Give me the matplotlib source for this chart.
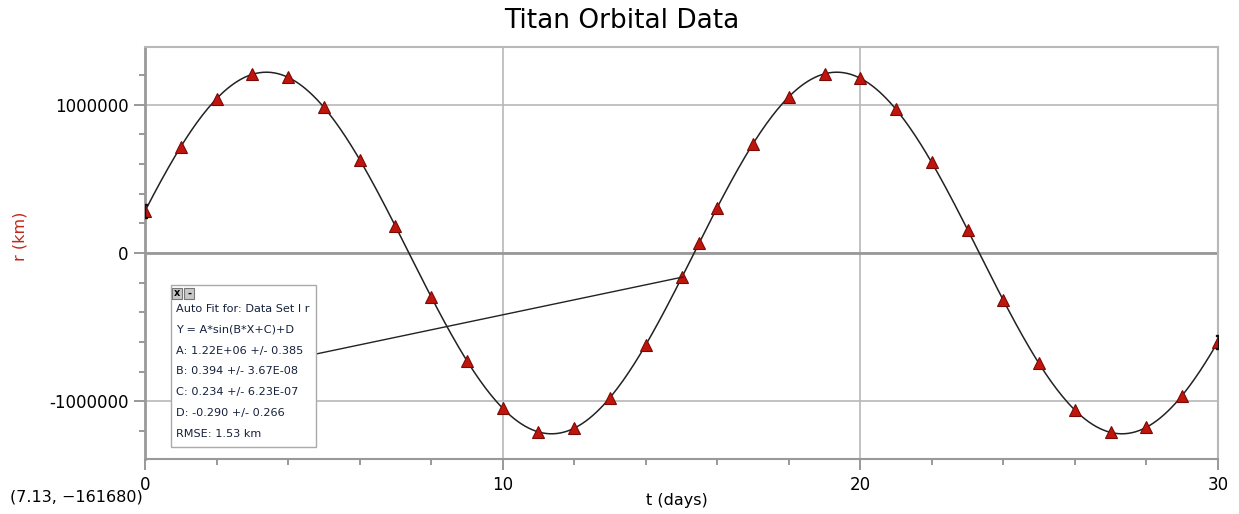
import numpy as np
import matplotlib.pyplot as plt
from matplotlib.ticker import MultipleLocator

# measured orbital radius of Titan (km) vs time (days)
t_days = [0, 1, 2, 3, 4, 5, 6, 7, 8, 9, 10, 11, 12, 13, 14, 15, 15.5, 16,
          17, 18, 19, 20, 21, 22, 23, 24, 25, 26, 27, 28, 29, 30]
r_km = [283000, 717000, 1041000, 1205000, 1185000, 983000, 630000, 182000,
        -295000, -726000, -1048000, -1207000, -1183000, -977000, -622000,
        -165000, 70000, 307000, 736000, 1055000, 1208000, 1179000, 970000,
        612000, 157000, -319000, -745000, -1061000, -1210000, -1176000,
        -962000, -602000]

# auto fit parameters, Y = A*sin(B*X+C)+D
fit_A = 1.22e6
fit_B = 0.394
fit_C = 0.234
fit_D = -0.290

fit_lines = ['Auto Fit for: Data Set I r',
             'Y = A*sin(B*X+C)+D',
             'A: 1.22E+06 +/- 0.385',
             'B: 0.394 +/- 3.67E-08',
             'C: 0.234 +/- 6.23E-07',
             'D: -0.290 +/- 0.266',
             'RMSE: 1.53 km']

plt.rcParams['font.family'] = 'DejaVu Sans'

W, H = 1239, 514
fig = plt.figure(figsize=(W/100, H/100), dpi=100)
ax = fig.add_axes([145/W, 55/H, 1073/W, 412/H])

tt = np.linspace(0, 30, 600)
ax.plot(tt, fit_A*np.sin(fit_B*tt + fit_C) + fit_D, color='#222222', lw=1.1, zorder=3)
ax.plot(t_days, r_km, ls='none', marker='^', ms=8, mfc='#c0150c', mec='#7a0a05',
        mew=0.8, zorder=4)

# selection brackets at the ends
ax.plot([t_days[0]], [r_km[0]], marker='$[$', ms=10, color='#111111', ls='none', zorder=5)
ax.plot([t_days[-1]], [r_km[-1]], marker='$]$', ms=10, color='#111111', ls='none', zorder=5)

ax.set_xlim(0, 30)
ax.set_ylim(-1.39e6, 1.39e6)
ax.xaxis.set_major_locator(MultipleLocator(10))
ax.xaxis.set_minor_locator(MultipleLocator(2))
ax.yaxis.set_major_locator(MultipleLocator(1000000))
ax.yaxis.set_minor_locator(MultipleLocator(200000))
ax.yaxis.set_major_formatter(plt.FuncFormatter(lambda v, p: '%d' % v))

ax.grid(True, which='major', color='#b8b8b8', lw=1.2, zorder=1)
ax.axhline(0, color='#999999', lw=2, zorder=2)
for s in ax.spines.values():
    s.set_color('#b8b8b8')
    s.set_linewidth(1.5)
ax.spines['left'].set_color('#999999')
ax.spines['left'].set_linewidth(2)
ax.spines['bottom'].set_color('#999999')

ax.tick_params(which='major', direction='out', length=8, width=1.2, color='#888888',
               labelsize=12, pad=4)
ax.tick_params(which='minor', direction='out', length=4, width=1.2, color='#888888')

fig.text(622/W, 1 - 21/H, 'Titan Orbital Data', fontsize=19, ha='center', va='center')
fig.text(677/W, 1 - 501/H, 't (days)', fontsize=11.5, ha='center', va='center')
fig.text(20/W, 1 - 236/H, 'r (km)', fontsize=11.5, color='#c0281a', rotation=90,
         ha='center', va='center')

# auto fit box
bx0, by0, bx1, by1 = 171, 285, 316, 447
box = plt.Rectangle((bx0/W, 1 - by1/H), (bx1-bx0)/W, (by1-by0)/H,
                    transform=fig.transFigure, fc='white', ec='#aaaaaa', lw=1, zorder=6)
fig.add_artist(box)
for i, s in enumerate(['x', '-']):
    fig.add_artist(plt.Rectangle(((172 + 12*i)/W, 1 - 299/H), 10/W, 11/H,
                                 transform=fig.transFigure, fc='#c8c8c8', ec='#777777',
                                 lw=0.8, zorder=7))
    fig.text((177 + 12*i)/W, 1 - 293.5/H, s, fontsize=7, ha='center', va='center',
             fontweight='bold', zorder=8)
for i, line in enumerate(fit_lines):
    fig.text(176/W, 1 - (309 + 20.8*i)/H, line, fontsize=8.1, color='#14203c',
             ha='left', va='center', zorder=8)

# leader line from the box to the point at t=15
fig.add_artist(plt.Line2D([316/W, 683/W], [1 - 354/H, 1 - 277/H],
                          transform=fig.transFigure, color='#222222', lw=1, zorder=5))

fig.text(10/W, 1 - 497/H, '(7.13, \u2212161680)', fontsize=11.5, ha='left', va='center')

fig.savefig('out.png', dpi=100)
